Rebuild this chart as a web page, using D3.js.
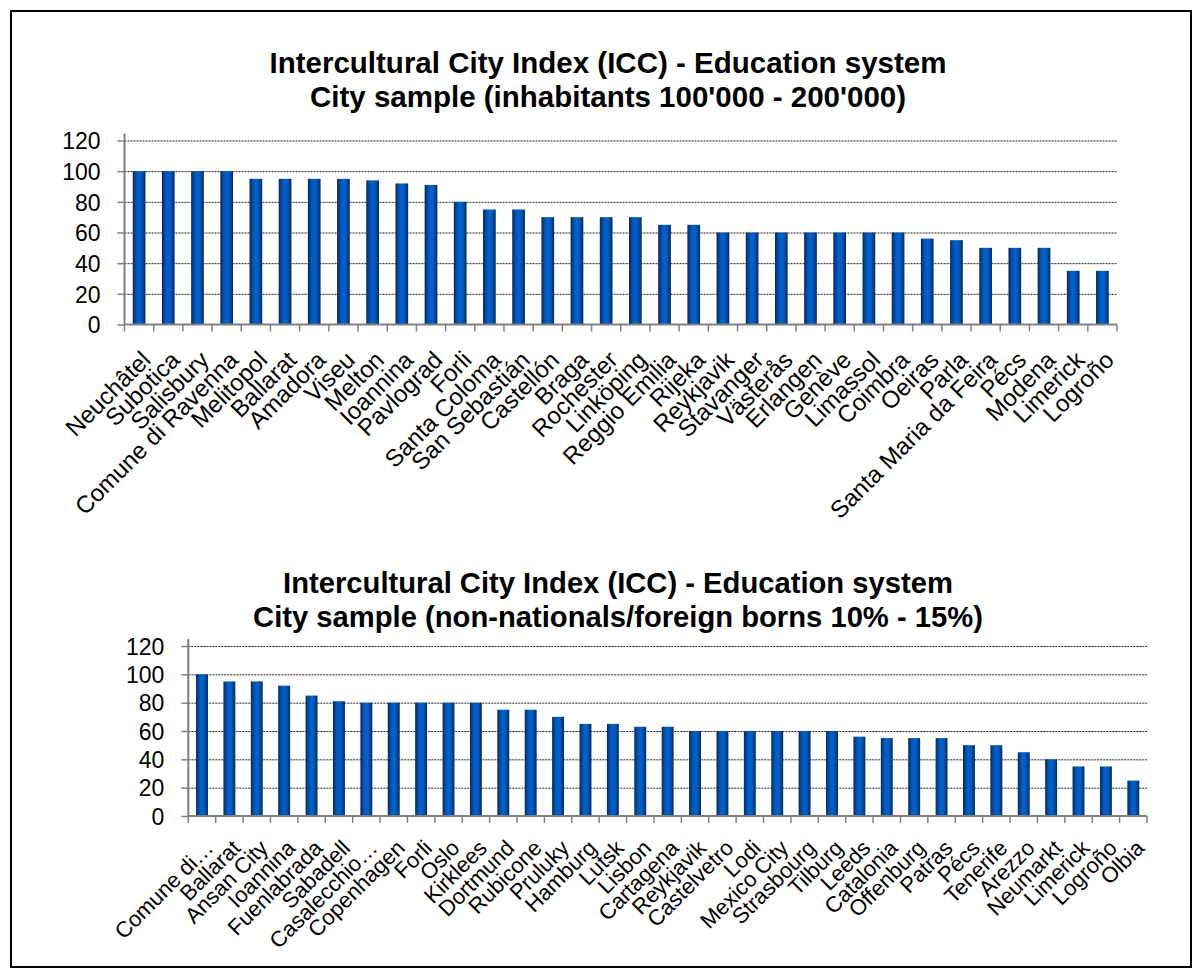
<!DOCTYPE html>
<html>
<head>
<meta charset="utf-8">
<script src="https://cdn.jsdelivr.net/npm/d3@7"></script>
<style>
  body { margin: 0; background: #fff; }
  svg { display: block; }
  text { font-family: Arial, "Liberation Sans", sans-serif; fill: #000; }
</style>
</head>
<body>
<svg id="chart" width="1202" height="978"></svg>
<script>
// Chart texts
const titleMain = "Intercultural City Index (ICC) - Education system";
const topSubtitle = "City sample (inhabitants 100'000 - 200'000)";
const bottomSubtitle = "City sample (non-nationals/foreign borns 10% - 15%)";

// Cities with 100'000 - 200'000 inhabitants
const topCities = ["Neuchâtel", "Subotica", "Salisbury", "Comune di Ravenna", "Melitopol", "Ballarat",
  "Amadora", "Viseu", "Melton", "Ioannina", "Pavlograd", "Forli", "Santa Coloma", "San Sebastián",
  "Castellón", "Braga", "Rochester", "Linköping", "Reggio Emilia", "Rijeka", "Reykjavik", "Stavanger",
  "Västerås", "Erlangen", "Genève", "Limassol", "Coimbra", "Oeiras", "Parla", "Santa Maria da Feira",
  "Pécs", "Modena", "Limerick", "Logroño"];
const topScores = [100, 100, 100, 100, 95, 95, 95, 95, 94, 92, 91, 80, 75, 75, 70, 70, 70, 70, 65, 65,
  60, 60, 60, 60, 60, 60, 60, 56, 55, 50, 50, 50, 35, 35];

// Cities with 10% - 15% non-nationals / foreign born
const bottomCities = ["Comune di…", "Ballarat", "Ansan City", "Ioannina", "Fuenlabrada", "Sabadell",
  "Casalecchio…", "Copenhagen", "Forli", "Oslo", "Kirklees", "Dortmund", "Rubicone", "Pruluky",
  "Hamburg", "Lutsk", "Lisbon", "Cartagena", "Reykjavik", "Castelvetro", "Lodi", "Mexico City",
  "Strasbourg", "Tilburg", "Leeds", "Catalonia", "Offenburg", "Patras", "Pécs", "Tenerife", "Arezzo",
  "Neumarkt", "Limerick", "Logroño", "Olbia"];
const bottomScores = [100, 95, 95, 92, 85, 81, 80, 80, 80, 80, 80, 75, 75, 70, 65, 65, 63, 63, 60, 60,
  60, 60, 60, 60, 56, 55, 55, 55, 50, 50, 45, 40, 35, 35, 25];

const yTicks = [0, 20, 40, 60, 80, 100, 120];

const svg = d3.select("#chart");

// Outer frame
svg.append("rect")
  .attr("x", 11).attr("y", 11).attr("width", 1180).attr("height", 956)
  .attr("fill", "none").attr("stroke", "#000").attr("stroke-width", 2);

// Horizontal shading of the bars (dark edges, bright centre)
const grad = svg.append("defs").append("linearGradient")
  .attr("id", "barFill").attr("x1", "0%").attr("x2", "100%").attr("y1", "0%").attr("y2", "0%");
[[0, "#0b2550"], [0.28, "#0055bb"], [0.5, "#0062cc"], [0.72, "#0057bd"], [1, "#0b2754"]]
  .forEach(([o, c]) => grad.append("stop").attr("offset", o).attr("stop-color", c));

function drawPanel(cfg, cities, scores, subtitle) {
  const g = svg.append("g");

  // Title
  const title = g.append("text")
    .attr("x", cfg.titleX).attr("text-anchor", "middle")
    .style("font-weight", "bold").style("font-size", cfg.titleSize + "px");
  title.append("tspan").attr("x", cfg.titleX).attr("y", cfg.titleY[0]).text(titleMain);
  title.append("tspan").attr("x", cfg.titleX).attr("y", cfg.titleY[1]).text(subtitle);

  const x = d3.scaleBand().domain(cities).range([cfg.left, cfg.right]).paddingInner(0.565).paddingOuter(0.2825);
  const y = d3.scaleLinear().domain([0, 120]).range([cfg.bottom, cfg.top]);

  // Dotted gridlines
  g.append("g").selectAll("line").data(yTicks.filter(t => t > 0)).join("line")
    .attr("x1", cfg.left).attr("x2", cfg.right)
    .attr("y1", d => y(d) + 0.5).attr("y2", d => y(d) + 0.5)
    .attr("stroke", "#222").attr("stroke-width", 1).attr("stroke-dasharray", "2,1");

  // Bars
  g.append("g").selectAll("rect").data(scores).join("rect")
    .attr("x", (d, i) => x(cities[i]))
    .attr("width", x.bandwidth())
    .attr("y", d => y(d))
    .attr("height", d => y(0) - y(d))
    .attr("fill", "url(#barFill)");

  // Y axis
  const yAxis = g.append("g").attr("transform", `translate(${cfg.left},0)`)
    .call(d3.axisLeft(y).tickValues(yTicks).tickSize(7).tickPadding(17));
  yAxis.select(".domain").attr("stroke", "#808080").attr("stroke-width", 2)
    .attr("d", `M0,${cfg.top - 7}V${cfg.bottom}`);
  yAxis.selectAll(".tick line").attr("stroke", "#808080").attr("stroke-width", 1.5);
  yAxis.selectAll(".tick text").style("font-size", "23px").attr("dy", "0.36em");

  // X axis: ticks on category boundaries
  const bounds = cities.map(c => x(c) - x.step() * x.paddingInner() / 2).concat([cfg.right]);
  g.append("line").attr("x1", cfg.left).attr("x2", cfg.right)
    .attr("y1", cfg.bottom).attr("y2", cfg.bottom)
    .attr("stroke", "#808080").attr("stroke-width", 2);
  g.append("g").selectAll("line").data(bounds).join("line")
    .attr("x1", d => d).attr("x2", d => d)
    .attr("y1", cfg.bottom).attr("y2", cfg.bottom + 7)
    .attr("stroke", "#808080").attr("stroke-width", 1.5);

  // Category labels rotated -45°
  g.append("g").selectAll("text").data(cities).join("text")
    .attr("text-anchor", "end")
    .attr("transform", d => `translate(${x(d) + x.bandwidth() / 2 + cfg.labelDx},${cfg.bottom + cfg.labelDy}) rotate(-45)`)
    .attr("dy", "0.35em")
    .style("font-size", cfg.labelSize + "px")
    .text(d => d);
}

drawPanel({ left: 124.5, right: 1117, top: 140.5, bottom: 324.5, titleX: 608, titleY: [72.5, 107],
  titleSize: 29.5, labelSize: 24, labelDx: 7, labelDy: 31 }, topCities, topScores, topSubtitle);

drawPanel({ left: 188.3, right: 1147, top: 646, bottom: 816, titleX: 618, titleY: [593, 627],
  titleSize: 29.2, labelSize: 22, labelDx: 7, labelDy: 28 }, bottomCities, bottomScores, bottomSubtitle);
</script>
</body>
</html>
